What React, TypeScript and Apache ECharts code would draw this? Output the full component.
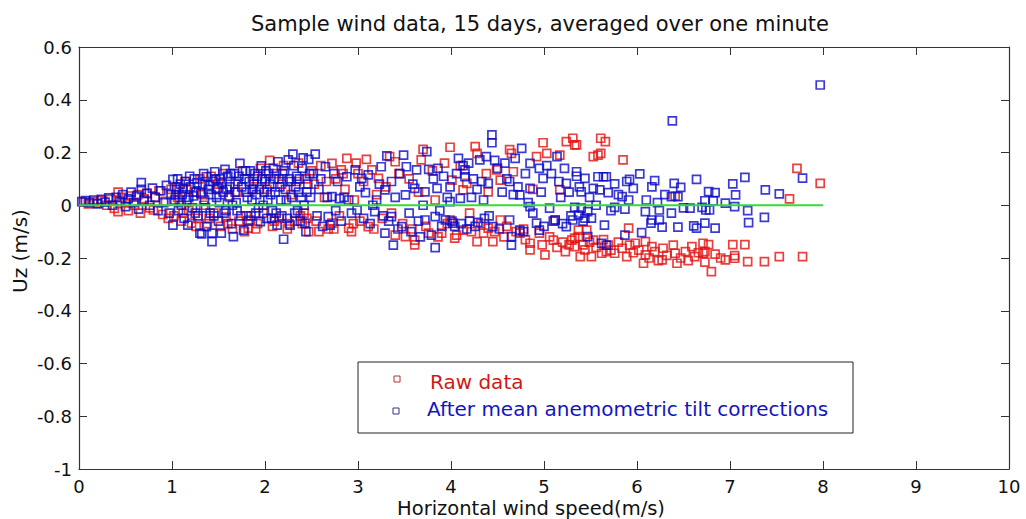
import React, { useEffect, useRef } from "react";
import * as echarts from "echarts";

const FONT = "'DejaVu Sans', sans-serif";

const titleText = "Sample wind data, 15 days, averaged over one minute";
const xAxisName = "Horizontal wind speed(m/s)";
const yAxisName = "Uz (m/s)";
const seriesNames = ["Raw data", "After mean anemometric tilt corrections"];

// Raw data (red)
const rawPoints: [number, number][] = [
  [0.05,0.012],[0.1,0.005],[0.15,0.015],[0.2,0.008],[0.24,0.018],[0.3,0.0],[0.34,0.022],[0.38,-0.012],[0.42,0.05],[0.42,-0.024],
  [0.46,0.03],[0.5,0.01],[0.53,-0.02],[0.56,0.035],[0.6,0.0],[0.63,0.04],[0.66,-0.03],[0.7,0.025],[0.73,0.045],[0.76,-0.01],
  [0.8,-0.018],[0.82,0.03],[0.86,0.055],[0.9,-0.035],[0.93,0.015],[0.96,-0.05],[0.99,0.06],
  [1.02,-0.04],[1.05,0.07],[1.08,0.02],[1.1,-0.06],[1.14,0.09],[1.18,-0.02],[1.21,-0.068],[1.24,0.05],[1.28,-0.05],[1.3,0.1],
  [1.34,0.0],[1.38,-0.07],[1.42,0.11],[1.45,-0.03],[1.48,0.06],[1.52,-0.08],[1.55,0.12],[1.58,-0.045],[1.62,0.03],[1.65,-0.09],
  [1.68,0.08],[1.72,-0.06],[1.76,0.13],[1.8,-0.04],[1.82,-0.087],[1.84,-0.056],[1.88,0.1],[1.92,-0.07],[1.95,0.14],[1.98,-0.03],
  [2.02,0.06],[2.05,0.17],[2.08,-0.08],[2.12,0.12],[2.15,-0.05],[2.2,0.15],[2.24,-0.09],[2.28,0.04],[2.32,-0.06],[2.36,0.16],
  [2.38,-0.04],[2.4,-0.07],[2.42,-0.03],[2.44,0.1],[2.47,-0.1],[2.5,0.13],
  [1.06,0.03],[1.12,-0.03],[1.16,0.06],[1.26,-0.08],[1.32,0.04],[1.4,-0.05],[1.5,0.08],[1.6,-0.07],[1.7,0.05],[1.78,-0.1],
  [1.86,0.06],[1.9,-0.09],[2.0,0.1],[2.1,-0.06],[2.18,0.08],[2.26,-0.07],[2.34,0.09],[2.45,-0.05],[2.53,0.08],[2.58,-0.1],
  [2.66,0.09],[2.74,-0.09],[2.84,0.12],[2.95,-0.07],[2.98,0.16],
  [2.55,-0.06],[2.6,0.15],[2.64,0.03],[2.68,-0.09],[2.72,0.159],[2.72,-0.068],[2.76,0.1],[2.8,-0.04],[2.82,0.134],[2.86,0.06],
  [2.88,0.178],[2.9,-0.087],[2.93,-0.1],[2.96,0.02],[3.0,0.12],[3.02,-0.06],[3.06,0.09],[3.09,0.174],[3.11,-0.081],[3.15,0.134],
  [3.17,-0.09],[3.2,0.04],[3.22,0.102],[3.26,-0.05],[3.3,0.07],[3.34,0.184],[3.36,-0.03],[3.4,0.165],[3.4,-0.113],[3.44,0.12],
  [3.48,-0.07],[3.51,-0.119],[3.55,0.1],[3.58,-0.09],[3.61,-0.132],[3.61,-0.15],[3.65,0.05],[3.68,0.172],[3.7,0.212],[3.73,-0.08],
  [3.76,-0.106],[3.8,0.13],[3.83,0.02],[3.86,-0.12],[3.9,-0.106],[3.93,0.16],[3.96,-0.07],[3.99,0.22],
  [3.99,-0.056],[4.01,0.095],[4.04,-0.125],[4.06,-0.113],[4.1,0.15],[4.13,0.058],[4.13,-0.094],[4.17,0.083],[4.2,-0.03],[4.22,-0.1],
  [4.26,0.222],[4.28,0.197],[4.28,-0.138],[4.32,-0.07],[4.35,-0.106],[4.38,0.12],[4.4,0.051],[4.4,-0.087],[4.45,-0.138],[4.47,-0.1],
  [4.49,0.134],[4.53,0.095],[4.53,-0.056],[4.57,-0.12],[4.6,-0.08],[4.63,0.211],[4.65,0.197],[4.67,0.127],[4.7,-0.1],[4.74,-0.106],
  [4.78,-0.09],[4.8,-0.13],[4.85,-0.144],[4.85,-0.169],[4.88,0.06],[4.92,0.184],[4.95,-0.106],[4.98,-0.15],[4.99,0.237],[5.01,-0.188],
  [5.03,0.197],[5.06,-0.12],[5.1,-0.132],[5.12,-0.056],[5.14,-0.16],[5.17,0.19],[5.17,0.058],[5.2,-0.14],[5.23,-0.176],[5.24,0.241],
  [5.27,-0.15],[5.3,-0.132],[5.31,0.254],[5.33,0.229],[5.33,-0.125],[5.33,-0.157],[5.35,0.229],[5.37,-0.119],[5.37,-0.094],[5.39,-0.195],
  [5.42,-0.15],[5.44,-0.169],[5.46,-0.094],[5.49,-0.14],[5.51,-0.195],[5.53,0.184],[5.53,-0.132],[5.56,-0.16],[5.58,0.19],[5.61,0.197],
  [5.61,0.254],[5.62,-0.182],[5.64,-0.13],[5.66,0.241],[5.67,-0.176],[5.69,-0.151],[5.72,-0.17],[5.76,-0.182],[5.8,-0.14],[5.84,-0.163],
  [5.85,0.172],[5.89,-0.195],[5.91,-0.087],[5.92,-0.151],[5.96,-0.18],[5.98,-0.144],
  [6.02,-0.17],[6.07,-0.22],[6.09,-0.138],[6.09,-0.188],[6.13,-0.2],[6.16,-0.157],[6.19,-0.176],[6.23,-0.21],[6.27,-0.207],[6.28,-0.163],
  [6.32,-0.19],[6.39,-0.151],[6.41,-0.182],[6.41,0.035],[6.43,-0.22],[6.47,-0.2],[6.52,-0.176],[6.55,-0.21],[6.59,-0.157],[6.62,-0.195],
  [6.66,-0.18],[6.71,-0.182],[6.71,-0.144],[6.73,-0.176],[6.73,-0.216],[6.77,-0.149],[6.8,-0.252],[6.84,-0.185],[6.9,-0.2],[6.95,-0.207],
  [7.03,-0.149],[7.05,-0.191],[7.05,-0.201],[7.16,-0.149],[7.19,-0.214],[7.37,-0.214],[7.53,-0.195],[7.64,0.024],[7.72,0.14],[7.78,-0.195],
  [7.97,0.083],
];

// After mean anemometric tilt corrections (blue)
const correctedPoints: [number, number][] = [
  [0.03,0.014],[0.07,0.018],[0.11,0.01],[0.16,0.02],[0.2,0.005],[0.24,0.022],[0.28,0.012],[0.32,0.028],[0.36,0.0],[0.4,0.03],
  [0.44,0.015],[0.47,0.04],[0.5,-0.005],[0.53,0.025],[0.56,0.05],[0.59,0.01],[0.62,0.035],[0.64,-0.015],[0.67,0.086],[0.67,0.06],
  [0.7,0.02],[0.73,0.045],[0.76,0.0],[0.79,0.065],[0.82,0.03],[0.85,-0.02],[0.88,0.055],[0.91,0.01],[0.94,0.075],[0.97,-0.03],[0.99,0.04],
  [1.01,0.098],[1.01,-0.075],[1.03,0.02],[1.05,0.06],[1.07,-0.02],[1.09,0.08],[1.11,0.04],[1.13,-0.05],[1.15,0.09],[1.17,-0.075],
  [1.18,0.03],[1.2,0.07],[1.22,-0.01],[1.24,0.1],[1.26,0.05],[1.28,-0.04],[1.3,-0.106],[1.32,-0.109],[1.33,0.08],[1.35,0.02],
  [1.37,0.108],[1.37,-0.081],[1.39,0.06],[1.41,-0.03],[1.43,-0.106],[1.43,-0.138],[1.44,0.09],[1.46,0.127],[1.48,0.03],[1.5,-0.06],
  [1.52,0.1],[1.53,-0.106],[1.55,0.05],[1.57,0.136],[1.58,-0.02],[1.6,0.11],[1.62,0.07],[1.64,-0.07],[1.66,-0.119],[1.67,0.12],
  [1.69,0.01],[1.71,0.09],[1.73,0.159],[1.74,-0.04],[1.77,-0.094],[1.78,0.1],[1.8,0.05],[1.82,-0.06],[1.84,0.13],[1.86,0.02],
  [1.88,0.08],[1.9,-0.03],[1.92,0.11],[1.94,0.06],[1.95,-0.062],[1.96,0.149],[1.98,0.0],[2.0,0.09],[2.02,-0.05],[2.04,0.12],
  [2.06,0.04],[2.08,-0.02],[2.1,0.1],[2.13,-0.075],[2.14,0.165],[2.16,0.07],[2.18,-0.04],[2.2,-0.129],[2.21,0.13],[2.23,0.02],
  [2.25,0.172],[2.27,-0.075],[2.28,0.09],[2.3,0.194],[2.32,-0.03],[2.34,0.11],[2.36,0.05],[2.38,-0.06],[2.4,0.14],[2.42,0.0],
  [2.43,-0.068],[2.44,-0.1],[2.46,0.08],[2.47,0.174],[2.49,0.03],
  [1.04,0.04],[1.06,0.1],[1.1,0.0],[1.12,0.065],[1.16,0.02],[1.19,0.11],[1.23,0.035],[1.25,-0.03],[1.27,0.085],[1.31,0.045],
  [1.34,0.12],[1.36,-0.01],[1.4,0.075],[1.42,0.04],[1.45,-0.04],[1.47,0.1],[1.49,0.065],[1.51,0.01],[1.54,0.085],[1.56,-0.03],
  [1.59,0.06],[1.61,0.035],[1.63,0.12],[1.65,0.0],[1.68,0.05],[1.7,-0.02],[1.72,0.11],[1.75,0.07],[1.79,0.13],[1.81,0.03],
  [1.83,0.09],[1.85,-0.04],[1.87,0.06],[1.89,0.12],[1.91,0.04],[1.93,-0.01],[1.97,0.1],[1.99,0.05],[2.01,0.13],[2.03,0.02],
  [2.05,0.08],[2.07,-0.05],[2.09,0.14],[2.11,0.05],[2.12,-0.03],[2.15,0.1],[2.17,0.02],[2.19,0.12],[2.22,0.06],[2.24,-0.05],
  [2.26,0.1],[2.29,0.03],[2.31,0.15],[2.33,0.07],[2.35,-0.02],[2.37,0.1],[2.39,0.03],[2.41,0.18],[2.45,0.05],[2.48,0.12],
  [2.52,0.12],[2.54,0.194],[2.56,-0.04],[2.58,0.06],[2.6,0.1],[2.62,-0.08],[2.65,0.146],[2.67,0.03],[2.68,-0.043],[2.7,-0.075],
  [2.72,0.033],[2.74,0.12],[2.76,-0.02],[2.78,0.09],[2.8,0.025],[2.82,-0.06],[2.85,0.03],[2.88,0.108],[2.9,0.02],[2.93,-0.03],
  [2.97,0.134],[2.99,-0.018],[3.02,0.07],[3.04,0.102],[3.06,-0.05],[3.08,0.048],[3.11,0.115],[3.13,-0.07],[3.16,0.0],[3.18,-0.024],
  [3.2,0.02],[3.23,0.08],[3.25,0.146],[3.27,-0.04],[3.29,0.058],[3.29,-0.106],[3.31,0.187],[3.33,-0.06],[3.36,0.09],[3.36,-0.043],
  [3.38,-0.151],[3.4,0.03],[3.43,-0.09],[3.45,0.12],[3.47,-0.081],[3.49,0.19],[3.51,0.039],[3.52,0.146],[3.55,-0.03],[3.57,-0.1],
  [3.59,0.08],[3.61,0.064],[3.63,0.134],[3.65,-0.06],[3.67,-0.12],[3.7,0.0],[3.72,0.051],[3.72,-0.056],[3.74,0.203],[3.76,0.136],
  [3.79,-0.113],[3.81,0.1],[3.83,-0.043],[3.83,-0.161],[3.85,0.064],[3.86,0.14],[3.88,-0.02],[3.9,-0.08],[3.92,0.11],[3.94,-0.056],
  [3.96,0.03],[3.99,0.07],[3.99,0.014],
  [4.01,-0.06],[4.02,-0.068],[4.04,-0.08],[4.06,0.12],[4.08,0.178],[4.1,0.026],[4.11,-0.07],[4.13,0.15],[4.15,0.134],[4.15,0.108],
  [4.17,-0.09],[4.19,0.16],[4.2,-0.06],[4.22,0.03],[4.24,0.1],[4.26,-0.08],[4.28,0.06],[4.29,-0.065],[4.31,0.172],[4.33,0.09],
  [4.35,0.02],[4.36,-0.05],[4.38,0.184],[4.4,0.083],[4.41,-0.04],[4.44,0.267],[4.44,0.237],[4.45,-0.081],[4.47,0.17],[4.5,0.14],
  [4.52,-0.09],[4.55,0.05],[4.58,0.16],[4.6,0.1],[4.63,0.09],[4.63,-0.056],[4.65,-0.119],[4.65,-0.151],[4.67,0.04],[4.69,0.178],
  [4.72,0.07],[4.74,0.039],[4.74,-0.094],[4.76,0.216],[4.78,-0.1],[4.8,0.12],[4.83,0.01],[4.85,0.159],[4.85,0.064],[4.85,-0.005],
  [4.88,-0.03],[4.92,-0.068],[4.95,0.14],[4.95,-0.094],[4.97,0.05],[4.99,0.102],[5.0,-0.08],
  [5.03,0.15],[5.06,-0.011],[5.08,0.12],[5.1,-0.06],[5.12,-0.056],[5.14,0.184],[5.16,0.09],[5.18,0.03],[5.2,-0.07],[5.22,0.14],
  [5.24,0.083],[5.24,-0.081],[5.27,0.05],[5.29,-0.04],[5.31,-0.056],[5.33,-0.008],[5.35,0.127],[5.35,0.11],[5.37,-0.037],[5.38,0.07],
  [5.4,0.051],[5.4,-0.011],[5.42,-0.06],[5.44,0.102],[5.44,-0.049],[5.47,-0.024],[5.47,-0.119],[5.49,0.03],[5.51,-0.049],[5.53,0.064],
  [5.56,0.0],[5.58,0.108],[5.6,0.058],[5.62,-0.144],[5.64,0.108],[5.65,-0.075],[5.67,0.108],[5.67,-0.151],[5.69,0.048],[5.72,-0.02],
  [5.76,0.081],[5.76,-0.008],[5.8,0.04],[5.84,0.033],[5.87,-0.015],[5.87,-0.113],[5.89,0.09],[5.91,0.02],[5.92,0.098],[5.96,0.064],
  [6.03,0.119],[6.05,-0.104],[6.09,-0.024],[6.1,0.02],[6.15,-0.068],[6.16,0.07],[6.16,-0.056],[6.19,0.093],[6.22,0.01],[6.24,-0.018],
  [6.24,-0.056],[6.27,-0.083],[6.3,0.04],[6.37,0.033],[6.37,-0.03],[6.38,0.32],[6.4,0.083],[6.44,0.033],[6.44,-0.083],[6.47,0.068],
  [6.5,-0.01],[6.57,-0.011],[6.61,-0.078],[6.64,0.098],[6.64,-0.087],[6.7,-0.008],[6.73,0.017],[6.73,-0.068],[6.74,-0.018],[6.77,0.052],
  [6.78,-0.018],[6.82,0.017],[6.84,0.048],[6.84,-0.087],[6.95,0.008],[7.03,0.081],[7.05,-0.005],[7.06,0.039],[7.16,0.106],[7.19,-0.02],
  [7.2,-0.066],[7.37,-0.046],[7.38,0.058],[7.53,0.043],[7.78,0.103],[7.97,0.456],
];

// Zero reference line (green)
const zeroLine: [number, number][] = [[0, 0], [8, 0]];

const RED = "#e41010";
const BLUE = "#0a0ac8";
const GREEN = "#33dd33";
const AXIS = "#333";

export default function App() {
  const ref = useRef<HTMLDivElement>(null);
  useEffect(() => {
    const chart = echarts.init(ref.current!, null, { renderer: "svg" });
    const fmt = (v: number) => String(Math.round(v * 10) / 10);
    const grid = { left: 79, right: 17, top: 47, bottom: 50 };
    const tick = { show: true, inside: true, length: 8, lineStyle: { color: AXIS, width: 1 } };
    const line = { show: true, onZero: false, lineStyle: { color: AXIS, width: 1.2 } };
    const labelStyle = { color: "#111", fontSize: 18, lineHeight: 18, fontFamily: FONT };
    chart.setOption({
      animation: false,
      backgroundColor: "#fff",
      grid,
      xAxis: [
        {
          type: "value", min: 0, max: 10, interval: 1, position: "bottom",
          axisLine: line, axisTick: tick, splitLine: { show: false },
          axisLabel: { ...labelStyle, margin: 8, formatter: fmt },
        },
        {
          type: "value", min: 0, max: 10, interval: 1, position: "top",
          axisLine: line, axisTick: tick, splitLine: { show: false },
          axisLabel: { show: false },
        },
      ],
      yAxis: [
        {
          type: "value", min: -1, max: 0.6, interval: 0.2, position: "left",
          axisLine: line, axisTick: tick, splitLine: { show: false },
          axisLabel: { ...labelStyle, margin: 7, formatter: fmt },
        },
        {
          type: "value", min: -1, max: 0.6, interval: 0.2, position: "right",
          axisLine: line, axisTick: tick, splitLine: { show: false },
          axisLabel: { show: false },
        },
      ],
      graphic: [
        {
          type: "text", x: 540, y: 24, z: 10,
          style: { text: titleText, fontSize: 21, fontFamily: FONT, fill: "#111", align: "center", verticalAlign: "middle" },
        },
        {
          type: "text", x: 531, y: 508, z: 10,
          style: { text: xAxisName, fontSize: 19.5, lineHeight: 19, fontFamily: FONT, fill: "#111", align: "center", verticalAlign: "middle" },
        },
        {
          type: "text", x: 20, y: 251, rotation: Math.PI / 2, z: 10,
          style: { text: yAxisName, fontSize: 20, fontFamily: FONT, fill: "#111", align: "center", verticalAlign: "middle" },
        },
        {
          type: "rect", z: 8,
          shape: { x: 358, y: 362, width: 495, height: 71 },
          style: { fill: "#fff", stroke: "#222", lineWidth: 1 },
        },
        {
          type: "rect", z: 9,
          shape: { x: 394, y: 376, width: 6, height: 6 },
          style: { fill: "none", stroke: "#b83030", lineWidth: 1 },
        },
        {
          type: "rect", z: 9,
          shape: { x: 393, y: 408, width: 6, height: 6 },
          style: { fill: "none", stroke: "#303088", lineWidth: 1 },
        },
        {
          type: "text", x: 430, y: 382, z: 10,
          style: { text: seriesNames[0], fontSize: 20, fontFamily: FONT, fill: "#d01818", align: "left", verticalAlign: "middle" },
        },
        {
          type: "text", x: 427, y: 409, z: 10,
          style: { text: seriesNames[1], fontSize: 20, fontFamily: FONT, fill: "#1414c0", align: "left", verticalAlign: "middle" },
        },
      ],
      series: [
        {
          name: seriesNames[0], type: "scatter", data: rawPoints, symbol: "rect", symbolSize: 8,
          itemStyle: { color: "rgba(0,0,0,0)", borderColor: RED, borderWidth: 1.7 },
          xAxisIndex: 0, yAxisIndex: 0,
        },
        {
          name: seriesNames[1], type: "scatter", data: correctedPoints, symbol: "rect", symbolSize: 8,
          itemStyle: { color: "rgba(0,0,0,0)", borderColor: BLUE, borderWidth: 1.7 },
          xAxisIndex: 0, yAxisIndex: 0,
        },
        {
          name: "zero", type: "line", data: zeroLine, symbol: "none", z: 5,
          lineStyle: { color: GREEN, width: 2 },
          xAxisIndex: 0, yAxisIndex: 0,
        },
      ],
    });
    return () => chart.dispose();
  }, []);
  return (
    <div
      ref={ref}
      style={{ position: "absolute", left: 0, top: 0, width: 1026, height: 519, background: "#fff" }}
    />
  );
}
